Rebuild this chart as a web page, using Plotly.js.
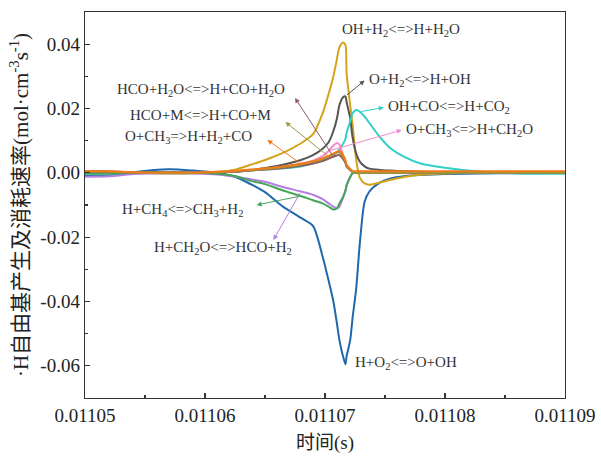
<!DOCTYPE html>
<html>
<head>
<meta charset="utf-8">
<script src="https://cdn.plot.ly/plotly-3.0.1.min.js"></script>
<style>html,body{margin:0;padding:0;background:#fff;}#chart{width:601px;height:458px;}</style>
</head>
<body>
<div id="chart"></div>
<script>
// Time grid (s)
const time = [0.01105, 0.011052, 0.011054, 0.011057, 0.011059, 0.011061, 0.0110625, 0.0110638,
  0.011065, 0.0110665, 0.011068, 0.011069, 0.0110698, 0.0110703, 0.0110707, 0.011071, 0.0110712,
  0.0110715, 0.0110717, 0.0110718, 0.0110721, 0.0110723, 0.0110726, 0.0110729, 0.0110733,
  0.0110737, 0.0110746, 0.0110754, 0.0110767, 0.0110779, 0.01108, 0.0110829, 0.0110863, 0.01109];

// Rates (mol·cm^-3·s^-1)
const h_o2 = [-0.001, -0.0009, 0.0002, 0.0011, 0.0007, 0.0, -0.0012, -0.0035, -0.006, -0.0105, -0.014,
  -0.0165, -0.026, -0.0335, -0.040, -0.047, -0.052, -0.057, -0.0595, -0.057, -0.052, -0.045, -0.036,
  -0.022, -0.009, -0.0058, -0.003, -0.0018, -0.001, -0.0007, -0.0004, -0.0002, -0.0001, 0.0];
const oh_h2 = [0.0006, 0.0005, 0.0002, 0.0, 0.0, 0.0003, 0.001, 0.0025, 0.004, 0.0062, 0.0092, 0.012,
  0.0185, 0.0245, 0.030, 0.0355, 0.039, 0.0405, 0.0398, 0.031, 0.021, 0.015, 0.004, -0.0015, -0.0033,
  -0.0037, -0.003, -0.0022, -0.0012, -0.0006, -0.0002, 0.0, 0.0, 0.0];
const o_h2 = [0.0003, 0.0002, 0.0002, 0.0002, 0.0002, 0.0002, 0.0003, 0.0008, 0.0015, 0.0025, 0.004,
  0.0055, 0.0075, 0.0095, 0.013, 0.017, 0.021, 0.0235, 0.0238, 0.022, 0.017, 0.011, 0.006, 0.0035,
  0.002, 0.0013, 0.0009, 0.0007, 0.0005, 0.0003, 0.0001, 0.0, 0.0, 0.0];
const oh_co = [-0.0003, -0.0002, 0.0, 0.0, 0.0, 0.0002, 0.0005, 0.0008, 0.001, 0.0014, 0.002, 0.003,
  0.0038, 0.0046, 0.0055, 0.0063, 0.0072, 0.009, 0.0105, 0.0125, 0.016, 0.0185, 0.0195, 0.019, 0.0175,
  0.0155, 0.011, 0.0078, 0.0048, 0.003, 0.0016, 0.0004, -0.0002, -0.0003];
const o_ch3_ch2o = [0.0002, 0.0002, 0.0001, 0.0, 0.0, 0.0002, 0.0005, 0.0008, 0.0012, 0.0019, 0.0028,
  0.0038, 0.0052, 0.0068, 0.0085, 0.0093, 0.0088, 0.0055, 0.0033, 0.002, 0.0008, 0.0002, 0.0, 0.0, 0.0,
  0.0, 0.0, 0.0, 0.0, 0.0, 0.0, 0.0, 0.0, 0.0];
const h_ch2o = [-0.0012, -0.0011, -0.0004, -0.0001, -0.0002, -0.0005, -0.0012, -0.002, -0.0028, -0.0044,
  -0.0058, -0.0068, -0.0082, -0.0095, -0.0105, -0.011, -0.0105, -0.0078, -0.0058, -0.0040, -0.0013,
  -0.0002, 0.0, 0.0, 0.0, 0.0, 0.0, 0.0, 0.0, 0.0, 0.0, 0.0, 0.0, 0.0];
const h_ch4 = [-0.0003, -0.0003, 0.0, 0.0002, 0.0001, -0.0003, -0.001, -0.0025, -0.0035, -0.0055,
  -0.0072, -0.0085, -0.0095, -0.0105, -0.0114, -0.011, -0.0095, -0.0075, -0.0055, -0.0038, -0.0013,
  0.0, 0.0, 0.0, 0.0, 0.0, 0.0, 0.0, 0.0, 0.0, 0.0, 0.0, 0.0, 0.0];
const hco_h2o = [0.0003, 0.0003, 0.0001, 0.0, 0.0, 0.0002, 0.0004, 0.0007, 0.001, 0.0015, 0.0022, 0.0029,
  0.0037, 0.0044, 0.005, 0.0054, 0.0055, 0.0043, 0.0031, 0.0019, 0.0009, 0.0003, 0.0001, 0.0, 0.0, 0.0,
  0.0, 0.0, 0.0, 0.0, 0.0, 0.0, 0.0, 0.0];
const hco_m = [0.0004, 0.0004, 0.0001, -0.0002, -0.0001, 0.0002, 0.0005, 0.0008, 0.0012, 0.0018, 0.0026,
  0.0034, 0.0043, 0.0051, 0.0058, 0.0063, 0.0064, 0.005, 0.0036, 0.0022, 0.001, 0.0003, 0.0001, 0.0, 0.0,
  0.0, 0.0, 0.0, 0.0, 0.0, 0.0, 0.0, 0.0, 0.0];
const o_ch3_co = [0.0006, 0.0005, 0.0002, 0.0001, 0.0001, 0.0003, 0.0006, 0.001, 0.0014, 0.002, 0.0028,
  0.0036, 0.0045, 0.0053, 0.006, 0.0066, 0.0068, 0.0055, 0.004, 0.0025, 0.0012, 0.0006, 0.0005, 0.0005,
  0.0005, 0.0005, 0.0005, 0.0005, 0.0005, 0.0005, 0.0005, 0.0005, 0.0005, 0.0005];

// Labels
const xTickVals = [0.01105, 0.01106, 0.01107, 0.01108, 0.01109];
const xTickText = ['0.01105', '0.01106', '0.01107', '0.01108', '0.01109'];
const yTickVals = [-0.06, -0.04, -0.02, 0.0, 0.02, 0.04];
const yTickText = ['-0.06', '-0.04', '-0.02', '0.00', '0.02', '0.04'];

const series = [
  {y: h_o2, color: '#1F68AE', name: 'H+O<sub>2</sub>&lt;=&gt;O+OH', lx: 0.0110723, ly: -0.0592},
  {y: oh_h2, color: '#D4A31C', name: 'OH+H<sub>2</sub>&lt;=&gt;H+H<sub>2</sub>O', lx: 0.01107125, ly: 0.0444},
  {y: o_h2, color: '#555555', name: 'O+H<sub>2</sub>&lt;=&gt;H+OH', lx: 0.0110735, ly: 0.0289, ai: 18, hx: 0.0110733, hy: 0.0287},
  {y: oh_co, color: '#2FCFCA', name: 'OH+CO&lt;=&gt;H+CO<sub>2</sub>', lx: 0.0110751, ly: 0.0205, ai: 23, hx: 0.0110749, hy: 0.0203},
  {y: o_ch3_ch2o, color: '#F28ACB', name: 'O+CH<sub>3</sub>&lt;=&gt;H+CH<sub>2</sub>O', lx: 0.0110766, ly: 0.0133, ai: 13, hx: 0.0110764, hy: 0.0133},
  {y: h_ch2o, color: '#B27FE2', name: 'H+CH<sub>2</sub>O&lt;=&gt;HCO+H<sub>2</sub>', lx: 0.0110556, ly: -0.0234, ai: 10, hx: 0.0110657, hy: -0.0209},
  {y: h_ch4, color: '#46A657', name: 'H+CH<sub>4</sub>&lt;=&gt;CH<sub>3</sub>+H<sub>2</sub>', lx: 0.0110529, ly: -0.0116, ai: 10, hx: 0.0110643, hy: -0.0100},
  {y: hco_h2o, color: '#8E5B5E', name: 'HCO+H<sub>2</sub>O&lt;=&gt;H+CO+H<sub>2</sub>O', lx: 0.0110525, ly: 0.0258, ai: 14, hx: 0.0110675, hy: 0.0233},
  {y: hco_m, color: '#9C9A3C', name: 'HCO+M&lt;=&gt;H+CO+M', lx: 0.0110536, ly: 0.018, ai: 13, hx: 0.0110667, hy: 0.0158},
  {y: o_ch3_co, color: '#F07A1A', name: 'O+CH<sub>3</sub>=&gt;H+H<sub>2</sub>+CO', lx: 0.0110532, ly: 0.0111, ai: 10, hx: 0.0110652, hy: 0.0102}
];

const traces = series.map(s => ({
  x: time, y: s.y, type: 'scatter', mode: 'lines',
  line: {color: s.color, width: 2, shape: 'spline', smoothing: 0.7},
  hoverinfo: 'skip'
}));

const serif = 'Liberation Serif, Times New Roman, serif';
const annotations = [];
series.forEach(s => {
  annotations.push({
    x: s.lx, y: s.ly, xref: 'x', yref: 'y', text: s.name, showarrow: false,
    xanchor: 'left', yanchor: 'middle',
    font: {family: serif, size: 15, color: '#333'}
  });
  if (s.ai !== undefined) {
    annotations.push({
      x: s.hx, y: s.hy, xref: 'x', yref: 'y', text: '',
      showarrow: true, axref: 'x', ayref: 'y', ax: time[s.ai], ay: s.y[s.ai],
      arrowhead: 2, arrowsize: 1, arrowwidth: 1, arrowcolor: s.color, standoff: 0
    });
  }
});

const layout = {
  width: 601, height: 458,
  margin: {l: 85, r: 36, t: 12, b: 60},
  paper_bgcolor: '#fff', plot_bgcolor: '#fff',
  showlegend: false,
  font: {family: serif, color: '#222'},
  xaxis: {
    range: [0.01105, 0.01109], tickmode: 'array', tickvals: xTickVals, ticktext: xTickText,
    ticks: 'inside', ticklen: 5, tickwidth: 1.2, tickcolor: '#333',
    minor: {tickmode: 'linear', tick0: 0.01105, dtick: 0.000005, ticks: 'inside', ticklen: 3, tickcolor: '#333'},
    showline: true, linecolor: '#333', linewidth: 1.3, mirror: true,
    showgrid: false, zeroline: false,
    tickfont: {family: serif, size: 19, color: '#222'},
    title: {text: '时间(s)', font: {family: serif + ', Noto Sans CJK SC', size: 19, color: '#222'}, standoff: 10}
  },
  yaxis: {
    range: [-0.07, 0.05], tickmode: 'array', tickvals: yTickVals, ticktext: yTickText,
    ticks: 'inside', ticklen: 5, tickwidth: 1.2, tickcolor: '#333',
    minor: {tickmode: 'linear', tick0: 0, dtick: 0.01, ticks: 'inside', ticklen: 3, tickcolor: '#333'},
    showline: true, linecolor: '#333', linewidth: 1.3, mirror: true,
    showgrid: false, zeroline: false,
    tickfont: {family: serif, size: 19, color: '#222'},
    title: {text: '·H自由基产生及消耗速率(mol·cm<sup>-3</sup>s<sup>-1</sup>)', font: {family: serif + ', Noto Sans CJK SC', size: 21, color: '#222'}, standoff: 6}
  },
  annotations: annotations
};

Plotly.newPlot('chart', traces, layout, {displayModeBar: false, staticPlot: true});
</script>
</body>
</html>
